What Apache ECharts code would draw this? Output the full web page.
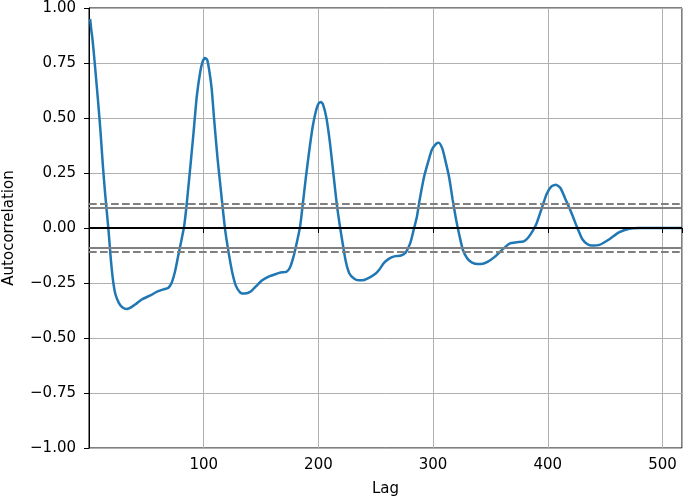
<!DOCTYPE html>
<html>
<head>
<meta charset="utf-8">
<script src="https://cdn.jsdelivr.net/npm/echarts@6/dist/echarts.min.js"></script>
<style>
  html, body { margin: 0; padding: 0; background: #fff; }
  #chart { width: 685px; height: 501px; }
</style>
</head>
<body>
<div id="chart"></div>
<script>
// lag / autocorrelation pairs
const lags = [1, 2, 3, 5, 8, 10, 12, 14, 17, 19, 21, 23, 26, 29, 33, 37, 41, 46, 54, 59, 65, 69, 72, 75, 78, 81,
  83, 85, 88, 91, 94, 97, 99, 101, 103, 105, 107, 109, 112, 115, 117, 119, 122, 125, 128, 132, 136, 141, 146,
  151, 157, 163, 167, 172, 175, 178, 181, 184, 186, 189, 192, 195, 198, 200, 202, 204, 207, 210, 213, 216, 219,
  221, 224, 227, 231, 235, 240, 244, 250, 253, 257, 262, 267, 272, 276, 280, 283, 286, 288, 292, 296, 299, 303,
  305, 308, 310, 314, 317, 320, 323, 326, 330, 334, 339, 342, 347, 354, 361, 367, 373, 379, 383, 387, 390, 395,
  399, 403, 407, 411, 416, 421, 425, 428, 430, 434, 438, 445, 454, 462, 471, 480, 500, 517];
const acf = [0.95, 0.90, 0.86, 0.75, 0.57, 0.44, 0.29, 0.16, -0.01, -0.14, -0.24, -0.30, -0.34, -0.36, -0.368,
  -0.36, -0.345, -0.325, -0.305, -0.29, -0.279, -0.273, -0.25, -0.198, -0.12, -0.045,
  0.01, 0.10, 0.26, 0.425, 0.6, 0.71, 0.755, 0.773, 0.765, 0.71, 0.63, 0.5, 0.32, 0.17, 0.07, -0.02, -0.12,
  -0.205, -0.262, -0.294, -0.298, -0.289, -0.263,
  -0.238, -0.22, -0.209, -0.202, -0.199, -0.182, -0.136, -0.07, 0.005, 0.091, 0.227, 0.35, 0.46, 0.535, 0.564,
  0.573, 0.562, 0.5, 0.39, 0.25, 0.11, 0.0,
  -0.065, -0.155, -0.207, -0.23, -0.238, -0.236, -0.227, -0.207, -0.19, -0.16, -0.138, -0.128, -0.125, -0.112,
  -0.07, -0.01, 0.055, 0.12, 0.23, 0.306, 0.357, 0.385,
  0.388, 0.362, 0.322, 0.23, 0.13, 0.04, -0.035, -0.1, -0.14, -0.157, -0.164, -0.164, -0.155, -0.13, -0.095,
  -0.07, -0.065, -0.061, -0.043, -0.012, 0.018, 0.094,
  0.155, 0.188, 0.197, 0.182, 0.124, 0.064, 0.01, -0.027, -0.05, -0.072, -0.08, -0.077, -0.05, -0.02, -0.003,
  0.0, 0.0, 0.0];

// confidence bands (99% dashed, 95% solid) and zero line
const bandDashed = [0.1133, -0.1133];
const bandSolid = [0.0862, -0.0862];
const zeroLine = [0];

const xTicks = [100, 200, 300, 400, 500];

const font = 'DejaVu Sans';
const chart = echarts.init(document.getElementById('chart'));

const points = lags.map((l, i) => [l, acf[i]]);

const refLines = []
  .concat(bandDashed.map(v => ({ yAxis: v, lineStyle: { color: '#808080', width: 2, type: [7.7, 3.3] } })))
  .concat(bandSolid.map(v => ({ yAxis: v, lineStyle: { color: '#808080', width: 2, type: 'solid' } })))
  .concat(zeroLine.map(v => ({ yAxis: v, lineStyle: { color: '#000', width: 2, type: 'solid' } })));

const option = {
  animation: false,
  grid: {
    left: 89, right: 3, top: 8, bottom: 53,
    outerBoundsMode: 'none',
    show: true, borderColor: '#000', borderWidth: 1, backgroundColor: 'transparent'
  },
  xAxis: {
    type: 'value',
    min: 0, max: 517, interval: 100,
    name: 'Lag', nameLocation: 'middle', nameGap: 34,
    nameTextStyle: { fontFamily: font, fontSize: 15, color: '#000' },
    axisLine: { lineStyle: { color: '#000', width: 1 } },
    axisTick: { show: true, length: 5, lineStyle: { color: '#000' } },
    axisLabel: {
      fontFamily: font, fontSize: 15, color: '#000', margin: 10,
      formatter: v => xTicks.indexOf(v) >= 0 ? String(v) : ''
    },
    splitLine: { show: true, lineStyle: { color: '#b0b0b0', width: 1 } }
  },
  yAxis: {
    type: 'value',
    min: -1, max: 1, interval: 0.25,
    name: 'Autocorrelation', nameLocation: 'middle', nameGap: 72,
    nameTextStyle: { fontFamily: font, fontSize: 15, color: '#000' },
    axisLine: { show: true, lineStyle: { color: '#000', width: 1 } },
    axisTick: { show: true, length: 5, lineStyle: { color: '#000' } },
    axisLabel: {
      fontFamily: font, fontSize: 15, color: '#000', margin: 13,
      formatter: v => (v < 0 ? '\u2212' : '') + Math.abs(v).toFixed(2)
    },
    splitLine: { show: true, lineStyle: { color: '#b0b0b0', width: 1 } }
  },
  series: [
    {
      type: 'line',
      z: 1,
      data: [],
      markLine: {
        silent: true,
        symbol: 'none',
        label: { show: false },
        data: refLines
      }
    },
    {
      type: 'line',
      z: 3,
      data: points,
      smooth: 0.2,
      showSymbol: false,
      lineStyle: { color: '#1f77b4', width: 2.5 }
    }
  ]
};

chart.setOption(option);
</script>
</body>
</html>
